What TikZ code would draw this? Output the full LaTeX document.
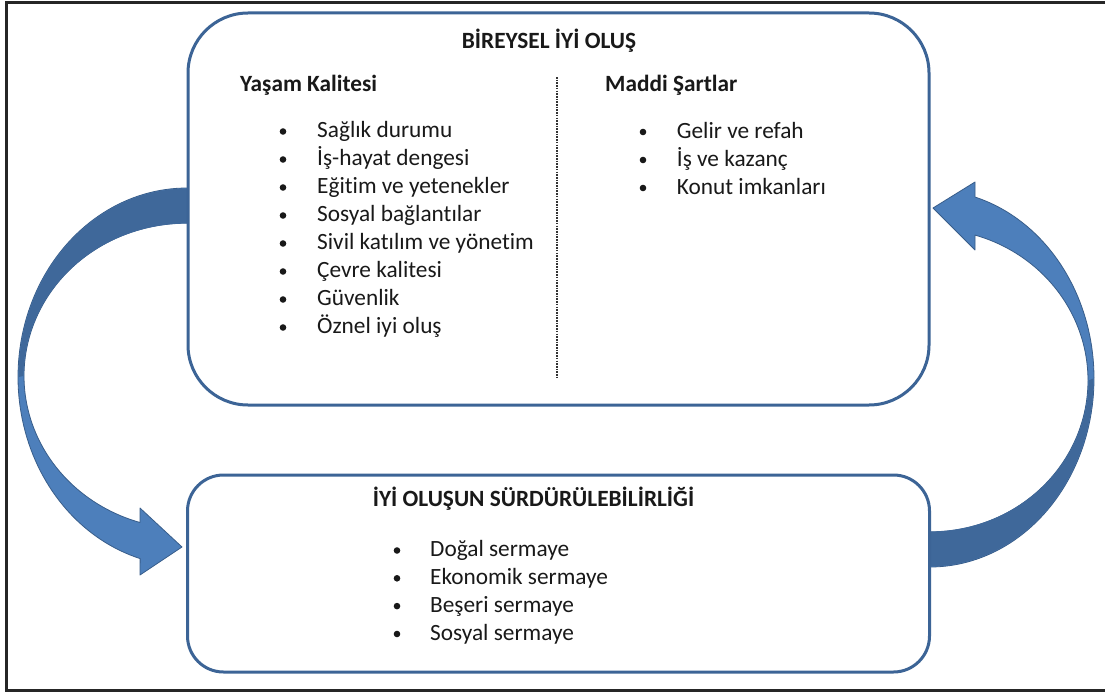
\documentclass[tikz,border=0pt]{standalone}
\usepackage{fontspec}
\setmainfont{Carlito}[Ligatures={NoCommon}]
\definecolor{boxc}{RGB}{60,100,150}
\definecolor{arrl}{RGB}{77,127,187}
\definecolor{arrd}{RGB}{63,104,154}
\definecolor{arre}{RGB}{56,93,138}
\definecolor{txtc}{RGB}{25,25,25}
\begin{document}
\begin{tikzpicture}[x=1pt,y=-1pt,
  txt/.style={anchor=base west, inner sep=0pt, text=txtc, font=\fontsize{23.3}{28}\selectfont},
  hd/.style={txt, font=\fontsize{23.3}{28}\selectfont\bfseries},
  box/.style={draw=boxc, line width=3pt, fill=white, inner sep=0pt},
  arr/.style={fill=arrl, draw=arre, line width=0.8pt, line join=round},
  arrdark/.style={fill=arrd},
  bul/.style={fill=txtc}]
\useasboundingbox (0,0) rectangle (1105,693);
\clip (0,0) rectangle (1105,693);
\fill[white] (0,0) rectangle (1105,693);
\draw[line width=2.2pt, black!85] (6.5,2.5) rectangle (1130,690.5);

% left curved arrow
\path[arr] (192,188) -- plot[variable=\t, domain=-90:-253.9, samples=90] ({187+169*cos(\t)},{377+189*sin(\t)})
  -- (140,575) -- (182,547) -- (140,508) -- (140,522.5)
  -- plot[variable=\t, domain=-253.24:-90, samples=90] ({187+163*cos(\t)},{376+153*sin(\t)})
  -- (192,223) -- cycle;
\path[arrdark] (192,188.6) -- plot[variable=\t, domain=-90:-180, samples=60] ({187+168.4*cos(\t)},{377+188.4*sin(\t)})
  -- plot[variable=\t, domain=-180:-90, samples=60] ({187+163.6*cos(\t)},{376+152.4*sin(\t)})
  -- (192,222.4) -- cycle;

% right curved arrow
\path[arr] (925,567) -- plot[variable=\t, domain=90:-74.07, samples=90] ({930+164*cos(\t)},{378.4+188.6*sin(\t)})
  -- (975,182) -- (933,208) -- (975,250) -- (975,235)
  -- plot[variable=\t, domain=-73.45:90, samples=90] ({930+158*cos(\t)},{380.4+151.6*sin(\t)})
  -- (925,532) -- cycle;
\path[arrdark] (925,566.4) -- plot[variable=\t, domain=90:0, samples=60] ({930+163.4*cos(\t)},{378.4+188*sin(\t)})
  -- plot[variable=\t, domain=0:90, samples=60] ({930+158.6*cos(\t)},{380.4+151*sin(\t)})
  -- (925,532.6) -- cycle;

% boxes
\node[box, minimum width=741pt, minimum height=392pt, rounded corners=60pt] (top) at (558.5,209) {};
\node[box, minimum width=742pt, minimum height=197pt, rounded corners=36pt] (bot) at (558.5,573.5) {};

% separator
\draw[gray!40!black, line width=1.3pt, dash pattern=on 1.6pt off 1.1pt] (557,77) -- (557,378);

% headings
\node[hd] (t1) at (461.7,48.5) {BİREYSEL İYİ OLUŞ};
\node[hd] (h1) at (240,92) {Yaşam Kalitesi};
\node[hd] (h2) at (605,92) {Maddi Şartlar};
\node[hd] (t2) at (372.7,506.5) {İYİ OLUŞUN SÜRDÜRÜLEBİLİRLİĞİ};

% left list
\node[txt] (l1) at (317,137.5) {Sağlık durumu};
\node[txt] (l2) at (317,165.5) {İş-hayat dengesi};
\node[txt] (l3) at (317,193.5) {Eğitim ve yetenekler};
\node[txt] (l4) at (317,221.5) {Sosyal bağlantılar};
\node[txt] (l5) at (317,249.5) {Sivil katılım ve yönetim};
\node[txt] (l6) at (317,277.5) {Çevre kalitesi};
\node[txt] (l7) at (317,305.5) {Güvenlik};
\node[txt] (l8) at (317,333.5) {Öznel iyi oluş};
\foreach \y in {137.5,165.5,...,333.5} \fill[bul] ({283},{\y-6}) circle (3.3pt);

% right list
\node[txt] (r1) at (676.7,138) {Gelir ve refah};
\node[txt] (r2) at (676.7,166) {İş ve kazanç};
\node[txt] (r3) at (676.7,194) {Konut imkanları};
\foreach \y in {138,166,194} \fill[bul] ({643},{\y-6}) circle (3.3pt);

% bottom list
\node[txt] (b1) at (430,556.5) {Doğal sermaye};
\node[txt] (b2) at (430,584.3) {Ekonomik sermaye};
\node[txt] (b3) at (430,612.1) {Beşeri sermaye};
\node[txt] (b4) at (430,640) {Sosyal sermaye};
\foreach \y in {556.5,584.3,612.1,640} \fill[bul] ({397},{\y-6}) circle (3.3pt);
\end{tikzpicture}
\end{document}
